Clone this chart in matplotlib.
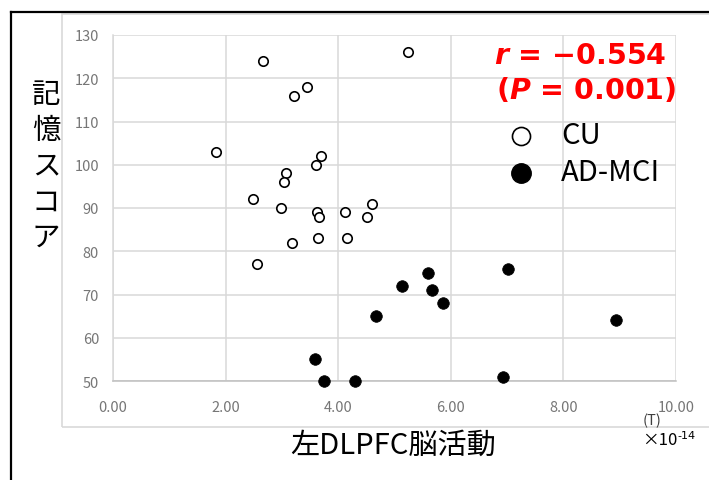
import matplotlib
matplotlib.use("Agg")
import matplotlib.pyplot as plt
from matplotlib.lines import Line2D
from matplotlib.patches import Rectangle

plt.rcParams['font.family'] = ['Noto Sans CJK JP', 'DejaVu Sans']
plt.rcParams['mathtext.fontset'] = 'custom'
plt.rcParams['mathtext.it'] = 'DejaVu Sans:italic:bold'
plt.rcParams['mathtext.rm'] = 'DejaVu Sans:bold'

# ---- data ----
cu_x = [2.66, 3.45, 3.21, 1.83, 3.69, 3.60, 3.07, 3.03, 2.48, 2.98,
        3.63, 3.66, 4.12, 5.24, 4.60, 4.51, 3.64, 4.16, 3.18, 2.55]
cu_y = [124, 118, 116, 103, 102, 100, 98, 96, 92, 90,
        89, 88, 89, 126, 91, 88, 83, 83, 82, 77]
ad_x = [3.59, 3.74, 4.30, 4.68, 5.13, 5.59, 5.66, 5.87, 7.01, 6.92, 8.93]
ad_y = [55, 50, 50, 65, 72, 75, 71, 68, 76, 51, 64]
x_ticks = [0, 2, 4, 6, 8, 10]
y_ticks = [50, 60, 70, 80, 90, 100, 110, 120, 130]
series_labels = ["CU", "AD-MCI"]
x_label = "左DLPFC脳活動"
y_label = "記憶スコア"
stat_lines = [r"$r$ = −0.554", r"($P$ = 0.001)"]

W, H = 709, 481
fig = plt.figure(figsize=(W / 100, H / 100), dpi=100)

def fx(px):
    return px / W

def fy(py):
    return 1 - py / H

# outer black frame (left + top)
fig.add_artist(Line2D([fx(11), fx(11)], [fy(13), fy(485)], color='black', lw=1.6))
fig.add_artist(Line2D([fx(11), fx(712)], [fy(13), fy(13)], color='black', lw=1.6))
# chart area light border
fig.add_artist(Rectangle((fx(62), fy(428)), fx(720) - fx(62), fy(15) - fy(428),
                         fill=False, edgecolor='#d9d9d9', lw=1.2))

ax = fig.add_axes([fx(113), fy(382), fx(676) - fx(113), fy(36) - fy(382)])
ax.set_xlim(0, 10)
ax.set_ylim(50, 130)
ax.set_xticks(x_ticks)
ax.set_yticks(y_ticks)
ax.set_xticklabels([f"{v:.2f}" for v in x_ticks])
ax.set_yticklabels([str(v) for v in y_ticks])
ax.grid(True, color='#d9d9d9', lw=1.1)
ax.set_axisbelow(True)
for s in ['top', 'right']:
    ax.spines[s].set_visible(False)
ax.spines['left'].set_color('#d9d9d9')
ax.spines['bottom'].set_color('#bfbfbf')
ax.spines['left'].set_linewidth(1.1)
ax.spines['bottom'].set_linewidth(1.1)
ax.tick_params(length=0, labelsize=10.5, labelcolor='#767676')
ax.tick_params(axis='x', pad=14)
ax.tick_params(axis='y', pad=10)

ax.scatter(cu_x, cu_y, s=46, facecolor='white', edgecolor='black', linewidth=1.2,
           zorder=3, clip_on=False)
ax.scatter(ad_x, ad_y, s=70, facecolor='black', edgecolor='black', linewidth=0.5,
           zorder=3, clip_on=False)

# y label stacked vertically
for i, ch in enumerate(y_label):
    fig.text(fx(46), fy(95 + i * 35.8), ch, fontsize=20.5, ha='center', va='center',
             color='black')

# x label
fig.text(fx(393), fy(446), x_label, fontsize=21, ha='center', va='center', color='black')

# units
fig.text(fx(652), fy(421), "(T)", fontsize=10.5, ha='center', va='center', color='#404040')
fig.text(fx(642), fy(441), "×10", fontsize=12, ha='left', va='center', color='black')
fig.text(fx(677.5), fy(436), "-14", fontsize=8, ha='left', va='center', color='black',
         family='DejaVu Sans')

# statistics
fig.text(fx(666), fy(56), stat_lines[0], fontsize=20.5, ha='right', va='center',
         color='#ff0000', fontweight='bold', family='DejaVu Sans')
fig.text(fx(676), fy(91), stat_lines[1], fontsize=20.5, ha='right', va='center',
         color='#ff0000', fontweight='bold', family='DejaVu Sans')

# legend
fig.add_artist(Line2D([fx(521)], [fy(137)], marker='o', ms=13, mfc='white', mec='black',
                      mew=1.2, ls=''))
fig.add_artist(Line2D([fx(521)], [fy(174)], marker='o', ms=14, mfc='black', mec='black',
                      ls=''))
fig.text(fx(561), fy(136), series_labels[0], fontsize=21, ha='left', va='center', color='black')
fig.text(fx(561), fy(173), series_labels[1], fontsize=21, ha='left', va='center', color='black')

fig.savefig("out.png", dpi=100)
